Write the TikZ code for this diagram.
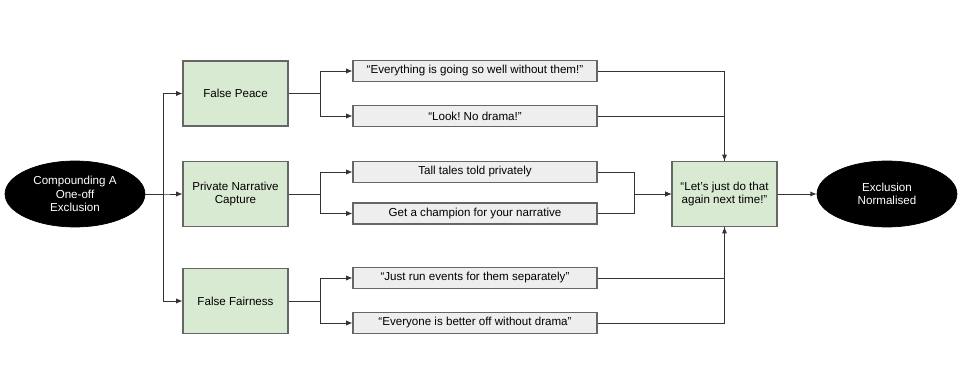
\documentclass[tikz,border=0pt]{standalone}
\usepackage{fontspec}
\setmainfont{Liberation Sans}
\usetikzlibrary{shapes.geometric,arrows.meta,positioning}
\definecolor{stagegreen}{HTML}{D9EAD3}
\definecolor{quotegray}{HTML}{EEEEEE}
\definecolor{edgegray}{HTML}{666666}
\definecolor{linegray}{HTML}{333333}
\frenchspacing

\begin{document}
\begin{tikzpicture}[
    x=0.02cm, y=-0.02cm,
    stage/.style={draw=edgegray, fill=stagegreen, rectangle, minimum width=2.1cm, minimum height=1.3cm,
        align=center, inner sep=1pt, font=\fontsize{6.6pt}{7.7pt}\selectfont, line width=0.6pt},
    quote/.style={draw=edgegray, fill=quotegray, rectangle, minimum width=4.88cm, minimum height=0.42cm,
        align=center, inner sep=0pt, font=\fontsize{6.6pt}{7.7pt}\selectfont, line width=0.6pt},
    terminal/.style={draw=black, fill=black, ellipse, minimum width=2.8cm, minimum height=1.32cm,
        inner sep=0pt, align=center, text=white, font=\fontsize{6.6pt}{7.7pt}\selectfont},
    arrow/.style={-{Latex[length=3.6pt, width=3pt]}, draw=linegray, line width=0.55pt},
    link/.style={draw=linegray, line width=0.55pt},
]
\useasboundingbox (0,0) rectangle (965,381);

\node[terminal] (start) at (75,194) {Compounding A\\One-off\\Exclusion};

\node[stage] (peace) at (235.5,93.5) {False Peace};
\node[stage] (capture) at (235.5,194) {Private Narrative\\Capture};
\node[stage] (fairness) at (235.5,301) {False Fairness};

\node[quote] (q1) at (475,71) {``Everything is going so well without them!''};
\node[quote] (q2) at (475,116) {``Look! No drama!''};
\node[quote] (q3) at (475,172) {Tall tales told privately};
\node[quote] (q4) at (475,213.5) {Get a champion for your narrative};
\node[quote] (q5) at (475,278) {``Just run events for them separately''};
\node[quote] (q6) at (475,323) {``Everyone is better off without drama''};

\node[stage] (again) at (724.5,194) {``Let's just do that\\again next time!''};

\node[terminal] (normal) at (887,194) {Exclusion\\Normalised};

\draw[arrow] (start.east) -- ++(18,0) |- (peace);
\draw[arrow] (start.east) -- ++(18,0) |- (capture);
\draw[arrow] (start.east) -- ++(18,0) |- (fairness);

\draw[arrow] (peace.east) -- ++(32,0) |- (q1);
\draw[arrow] (peace.east) -- ++(32,0) |- (q2);
\draw[arrow] (capture.east) -- ++(32,0) |- (q3);
\draw[arrow] (capture.east) -- ++(32,0) |- (q4);
\draw[arrow] (fairness.east) -- ++(32,0) |- (q5);
\draw[arrow] (fairness.east) -- ++(32,0) |- (q6);

\draw[arrow] (q1.east) -| (again.north);
\draw[link] (q2.east) -| (again.north);
\draw[arrow] (q3.east) -- ++(37,0) |- (again.west);
\draw[arrow] (q4.east) -- ++(37,0) |- (again.west);
\draw[arrow] (q6.east) -| (again.south);
\draw[link] (q5.east) -| (again.south);

\draw[arrow] (again) -- (normal);

\end{tikzpicture}
\end{document}
